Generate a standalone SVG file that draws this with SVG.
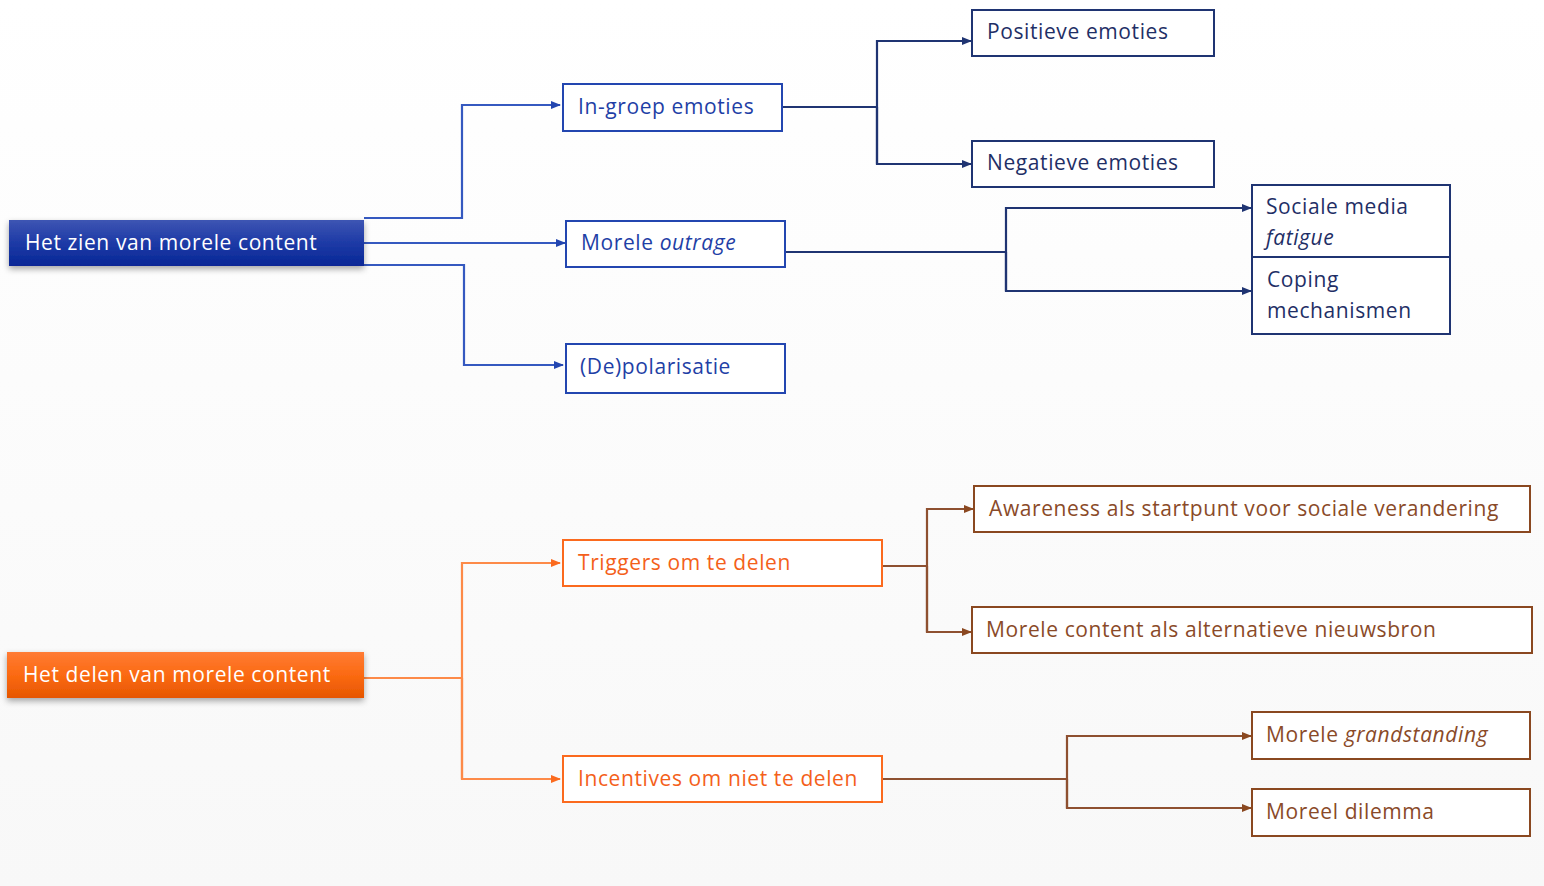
<svg xmlns="http://www.w3.org/2000/svg" width="1544" height="886" viewBox="0 0 1544 886">
<defs>
<linearGradient id="gBlue" x1="0" y1="0" x2="0" y2="1"><stop offset="0" stop-color="#3e55b3"/><stop offset="0.5" stop-color="#1d3aa6"/><stop offset="1" stop-color="#082796"/></linearGradient>
<linearGradient id="gOrange" x1="0" y1="0" x2="0" y2="1"><stop offset="0" stop-color="#ff7b35"/><stop offset="0.5" stop-color="#fb6a12"/><stop offset="1" stop-color="#e65600"/></linearGradient>
<linearGradient id="gBg" x1="0" y1="0" x2="0" y2="1"><stop offset="0" stop-color="#ffffff"/><stop offset="1" stop-color="#f8f8f8"/></linearGradient>
<filter id="sh" x="-5%" y="-20%" width="110%" height="160%"><feDropShadow dx="0" dy="3" stdDeviation="3" flood-color="#000" flood-opacity="0.35"/></filter>
<marker id="aBlue" markerWidth="10" markerHeight="10" refX="9" refY="5" orient="auto" markerUnits="userSpaceOnUse"><path d="M0,1 L10,5 L0,9 Z" fill="#2346b0"/></marker>
<marker id="aNavy" markerWidth="10" markerHeight="10" refX="9" refY="5" orient="auto" markerUnits="userSpaceOnUse"><path d="M0,1 L10,5 L0,9 Z" fill="#1f3472"/></marker>
<marker id="aOrange" markerWidth="10" markerHeight="10" refX="9" refY="5" orient="auto" markerUnits="userSpaceOnUse"><path d="M0,1 L10,5 L0,9 Z" fill="#fb6a1e"/></marker>
<marker id="aBrown" markerWidth="10" markerHeight="10" refX="9" refY="5" orient="auto" markerUnits="userSpaceOnUse"><path d="M0,1 L10,5 L0,9 Z" fill="#8a4820"/></marker>
</defs>
<style>
text{font-family:"Open Sans","Noto Sans","Liberation Sans",sans-serif;font-size:21px;letter-spacing:0.6px}
.root{fill:#ffffff}
.box{fill:#ffffff;stroke-width:2}
.bB{stroke:#2346b0}.tB{fill:#1f3fa6}
.bN{stroke:#1f3472}.tN{fill:#1f2f66}
.bO{stroke:#fb6a1e}.tO{fill:#f4601a}
.bR{stroke:#8a4820}.tR{fill:#8a4a28}
.c{fill:none;stroke-width:2.2}
.cB{stroke:#3559c0}.cN{stroke:#1f3472}.cO{stroke:#fd8a48}.cR{stroke:#8e5030}
</style>
<rect x="0" y="0" width="1544" height="886" fill="url(#gBg)"/>
<g id="connectors">
<path class="c cB" d="M364,218 H462 V105 H560" marker-end="url(#aBlue)"/>
<path class="c cB" d="M364,243 H565" marker-end="url(#aBlue)"/>
<path class="c cB" d="M364,265 H464 V365 H563" marker-end="url(#aBlue)"/>
<path class="c cN" d="M782,107 H877"/>
<path class="c cN" d="M877,164 V41 H971" marker-end="url(#aNavy)"/>
<path class="c cN" d="M877,107 V164 H971" marker-end="url(#aNavy)"/>
<path class="c cN" d="M785,252 H1006"/>
<path class="c cN" d="M1006,291 V208 H1251" marker-end="url(#aNavy)"/>
<path class="c cN" d="M1006,252 V291 H1251" marker-end="url(#aNavy)"/>
<path class="c cO" d="M364,678 H462"/>
<path class="c cO" d="M462,779 V563 H560" marker-end="url(#aOrange)"/>
<path class="c cO" d="M462,678 V779 H560" marker-end="url(#aOrange)"/>
<path class="c cR" d="M882,566 H927"/>
<path class="c cR" d="M927,632 V509 H973" marker-end="url(#aBrown)"/>
<path class="c cR" d="M927,566 V632 H971" marker-end="url(#aBrown)"/>
<path class="c cR" d="M882,779 H1067"/>
<path class="c cR" d="M1067,808 V736 H1251" marker-end="url(#aBrown)"/>
<path class="c cR" d="M1067,779 V808 H1251" marker-end="url(#aBrown)"/>
</g>
<g id="root-zien">
<rect x="9" y="220" width="355" height="46" fill="url(#gBlue)" filter="url(#sh)"/>
<text class="root" x="25" y="250">Het zien van morele content</text>
</g>
<g id="node-ingroep">
<rect class="box bB" x="563" y="84" width="219" height="47"/>
<text class="tB" x="578" y="114">In-groep emoties</text>
</g>
<g id="node-outrage">
<rect class="box bB" x="566" y="221" width="219" height="46"/>
<text class="tB" x="581" y="250">Morele <tspan font-style="italic">outrage</tspan></text>
</g>
<g id="node-depolarisatie">
<rect class="box bB" x="566" y="344" width="219" height="49"/>
<text class="tB" x="580" y="374">(De)polarisatie</text>
</g>
<g id="node-positief">
<rect class="box bN" x="972" y="10" width="242" height="46"/>
<text class="tN" x="987" y="39">Positieve emoties</text>
</g>
<g id="node-negatief">
<rect class="box bN" x="972" y="141" width="242" height="46"/>
<text class="tN" x="987" y="170">Negatieve emoties</text>
</g>
<g id="node-fatigue">
<rect class="box bN" x="1252" y="185" width="198" height="72"/>
<text class="tN" x="1266" y="214">Sociale media</text>
<text class="tN" x="1266" y="245" font-style="italic">fatigue</text>
</g>
<g id="node-coping">
<rect class="box bN" x="1252" y="257" width="198" height="77"/>
<text class="tN" x="1267" y="287">Coping</text>
<text class="tN" x="1267" y="318">mechanismen</text>
</g>
<g id="root-delen">
<rect x="7" y="652" width="357" height="46" fill="url(#gOrange)" filter="url(#sh)"/>
<text class="root" x="23" y="682">Het delen van morele content</text>
</g>
<g id="node-triggers">
<rect class="box bO" x="563" y="540" width="319" height="46"/>
<text class="tO" x="578" y="570">Triggers om te delen</text>
</g>
<g id="node-incentives">
<rect class="box bO" x="563" y="756" width="319" height="46"/>
<text class="tO" x="578" y="786">Incentives om niet te delen</text>
</g>
<g id="node-awareness">
<rect class="box bR" x="974" y="486" width="556" height="46"/>
<text class="tR" x="989" y="516">Awareness als startpunt voor sociale verandering</text>
</g>
<g id="node-nieuwsbron">
<rect class="box bR" x="972" y="607" width="560" height="46"/>
<text class="tR" x="986" y="637">Morele content als alternatieve nieuwsbron</text>
</g>
<g id="node-grandstanding">
<rect class="box bR" x="1252" y="712" width="278" height="47"/>
<text class="tR" x="1266" y="742">Morele <tspan font-style="italic">grandstanding</tspan></text>
</g>
<g id="node-dilemma">
<rect class="box bR" x="1252" y="789" width="278" height="47"/>
<text class="tR" x="1266" y="819">Moreel dilemma</text>
</g>
</svg>
